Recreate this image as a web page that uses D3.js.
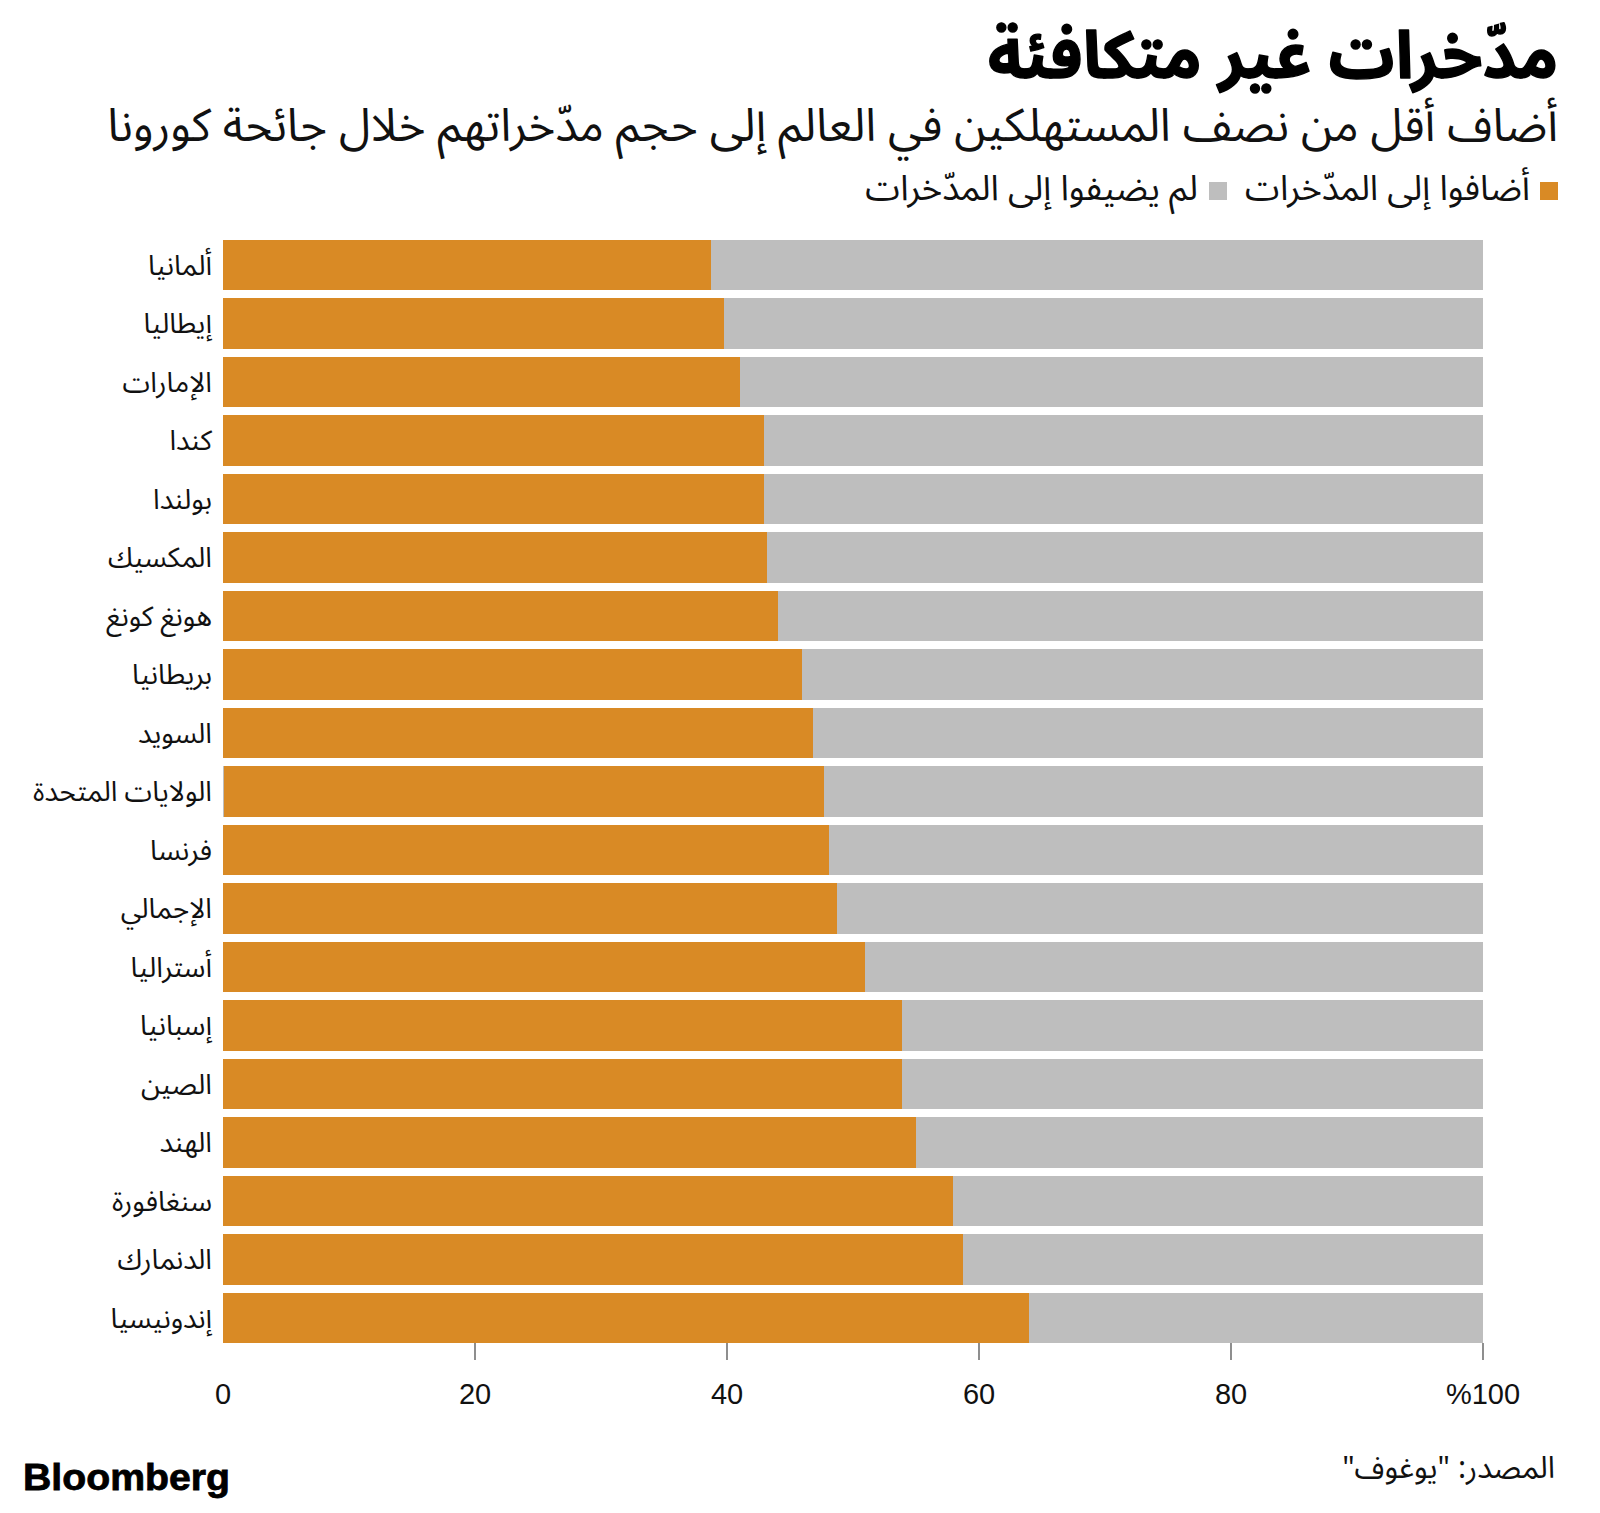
<!DOCTYPE html>
<html><head><meta charset="utf-8">
<script src="https://cdn.jsdelivr.net/npm/d3@7"></script>
<style>body{margin:0;background:#fff}svg{display:block}</style>
</head><body><svg id="c" width="1600" height="1513"></svg>
<script>
// ---- data ----
const categories = ["ألمانيا","إيطاليا","الإمارات","كندا","بولندا","المكسيك","هونغ كونغ","بريطانيا","السويد","الولايات المتحدة","فرنسا","الإجمالي","أستراليا","إسبانيا","الصين","الهند","سنغافورة","الدنمارك","إندونيسيا"];
// tiny leading grey sliver visible only on the US bar
const leadNotAdded = [0,0,0,0,0,0,0,0,0,0.15,0,0,0,0,0,0,0,0,0];
const addedSavings = [38.8,39.8,41.1,43.0,43.0,43.2,44.1,46.0,46.9,47.6,48.1,48.8,51.0,53.9,53.9,55.0,58.0,58.8,64.0];
const notAdded =     [61.2,60.2,58.9,57.0,57.0,56.8,55.9,54.0,53.1,52.25,51.9,51.2,49.0,46.1,46.1,45.0,42.0,41.2,36.0];
const tickValues = [0,20,40,60,80,100];
const tickLabels = ["0","20","40","60","80","%100"];
const seriesNames = ["أضافوا إلى المدّخرات","لم يضيفوا إلى المدّخرات"];
const titleText = "مدّخرات غير متكافئة";
const subtitleText = "أضاف أقل من نصف المستهلكين في العالم إلى حجم مدّخراتهم خلال جائحة كورونا";
const sourceText = "المصدر: \"يوغوف\"";

// ---- styles ----
const ORANGE = "#D98A25", GREY = "#BEBEBE";
const AR = "'Noto Sans Arabic','DejaVu Sans',sans-serif";
const LAT = "'Liberation Sans',Arial,Helvetica,sans-serif";
const rle = s => "\u202B" + s + "\u202C";

const svg = d3.select("#c");
function fit(sel, target){
  const w = sel.node().getComputedTextLength();
  const fs = parseFloat(sel.attr("font-size"));
  sel.attr("font-size", fs * target / w);
}

const rows = categories.map((c,i)=>({cat:c, lead:leadNotAdded[i], added:addedSavings[i], not:notAdded[i]}));
const stack = d3.stack().keys(["lead","added","not"])(rows);
const colors = {lead:GREY, added:ORANGE, not:GREY};

const x = d3.scaleLinear().domain([0,100]).range([222.5,1482.5]);
const y = d3.scaleBand().domain(categories).range([240,1343.3]).paddingInner(0.14).paddingOuter(0);

// bars
svg.append("g").selectAll("g").data(stack).join("g")
  .attr("fill", s => colors[s.key])
  .selectAll("rect").data(s => s).join("rect")
  .attr("x", d => x(d[0]))
  .attr("width", d => Math.max(0, x(d[1]) - x(d[0])))
  .attr("y", d => y(d.data.cat))
  .attr("height", y.bandwidth())
  .attr("shape-rendering","crispEdges");

// category labels
const labs = svg.append("g").selectAll("text").data(categories).join("text")
  .attr("x", 212).attr("y", d => y(d) + y.bandwidth()/2)
  .attr("dy","0.35em")
  .attr("text-anchor","end")
  .attr("font-family", AR).attr("font-size", 22).attr("fill","#111")
  .text(d => d);
{
  const us = labs.filter(d => d === "الولايات المتحدة");
  const w = us.node().getComputedTextLength();
  labs.attr("font-size", 22 * 179 / w);
}

// x axis
const axis = d3.axisBottom(x).tickValues(tickValues).tickSize(17).tickPadding(23)
  .tickFormat((d,i) => tickLabels[i]);
const ax = svg.append("g").attr("transform","translate(0,1343)").call(axis);
ax.select(".domain").remove();
ax.selectAll(".tick line").attr("stroke","#444").attr("stroke-width",1.2)
  .attr("opacity", d => d === 0 ? 0 : 1);
ax.selectAll(".tick text").attr("font-family", LAT).attr("font-size", 29).attr("fill","#111");

// title
const title = svg.append("text").attr("x",1558).attr("y",78).attr("text-anchor","end")
  .attr("font-family", AR).attr("font-weight","bold").attr("font-size",52).attr("fill","#000")
  .attr("stroke","#000").attr("stroke-width",1.4).attr("stroke-linejoin","round")
  .text(titleText);
fit(title, 570);

const sub = svg.append("text").attr("x",1558).attr("y",141).attr("text-anchor","end")
  .attr("font-family", AR).attr("font-size",34).attr("fill","#111")
  .text(subtitleText);
fit(sub, 1451);

// legend
const lg = svg.append("g");
lg.append("rect").attr("x",1540).attr("y",182).attr("width",18).attr("height",18).attr("fill",ORANGE);
const t1 = lg.append("text").attr("x",1530).attr("y",200).attr("text-anchor","end")
  .attr("font-family",AR).attr("font-size",24).attr("fill","#111").text(seriesNames[0]);
fit(t1, 285);
lg.append("rect").attr("x",1209).attr("y",182).attr("width",18).attr("height",18).attr("fill",GREY);
const t2 = lg.append("text").attr("x",1198).attr("y",200).attr("text-anchor","end")
  .attr("font-family",AR).attr("font-size",24).attr("fill","#111").text(seriesNames[1]);
fit(t2, 333);

// footer
svg.append("text").attr("x",23).attr("y",1490)
  .attr("font-family", LAT).attr("font-weight","bold").attr("font-size",37)
  .attr("textLength",207).attr("lengthAdjust","spacingAndGlyphs").attr("fill","#000")
  .attr("stroke","#000").attr("stroke-width",0.8)
  .text("Bloomberg");
const src = svg.append("text").attr("x",1555).attr("y",1478).attr("text-anchor","end")
  .attr("font-family",AR).attr("font-size",24).attr("fill","#111").text(rle(sourceText));
fit(src, 213);
</script>
</body></html>
